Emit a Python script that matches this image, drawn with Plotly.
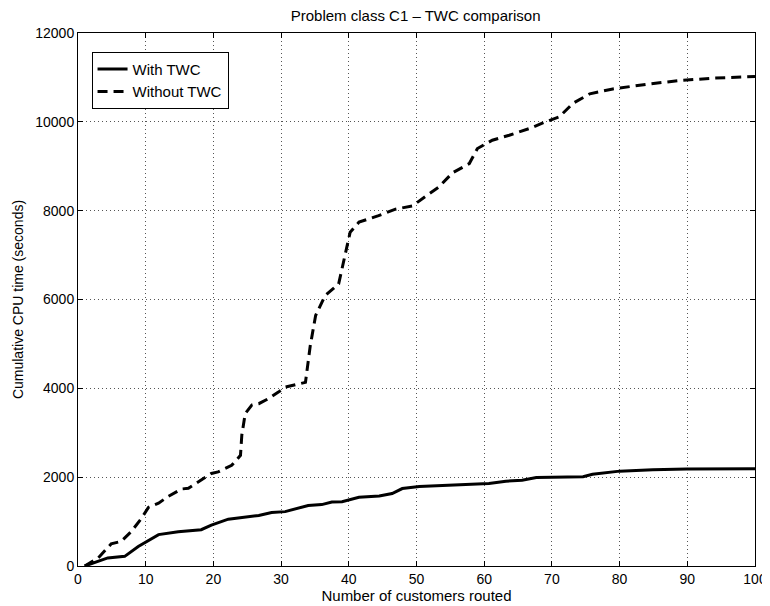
import plotly.graph_objects as go

# With TWC (solid)
with_x = [1, 4.4, 6.9, 8.9, 11.9, 14.8, 18.2, 19.7, 22.2, 26.7, 28.6, 30.6, 34, 36, 37.5, 39,
          41.5, 44.5, 46.4, 47.9, 50.4, 59.3, 60.7, 63.2, 65.6, 67.7, 74.6, 76, 80, 84.9, 89.9, 100]
with_y = [0, 182, 217, 440, 707, 771, 818, 922, 1055, 1139, 1204, 1224, 1362, 1382, 1440, 1447,
          1548, 1574, 1632, 1743, 1791, 1855, 1857, 1910, 1931, 1994, 2009, 2067, 2136, 2168, 2183, 2190]

# Without TWC (dashed)
without_x = [1, 3.0, 4.9, 6.4, 7.9, 9.4, 10.4, 11.9, 13.3, 15.3, 16.3, 17.8, 19.7, 20.7, 22.7,
             24.0, 24.2, 24.7, 25.7, 26.7, 28.1, 29.6, 30.6, 33.6, 33.8, 34.3, 35.1, 36.5, 38.5,
             39.0, 39.7, 40.2, 41.5, 44.4, 46.9, 49.4, 51.4, 53.3, 55.3, 57.8, 59.0, 61.2, 63.7,
             66.7, 68.9, 71.1, 73.1, 75.6, 79, 84, 88.9, 93.8, 100]
without_y = [0, 184, 498, 556, 780, 1079, 1319, 1415, 1564, 1734, 1748, 1897, 2083, 2119, 2267,
             2491, 2950, 3431, 3626, 3654, 3766, 3915, 4026, 4135, 4361, 4953, 5640, 6090, 6351,
             6689, 7139, 7516, 7741, 7888, 8034, 8107, 8330, 8531, 8850, 9060, 9399, 9586, 9699,
             9850, 9990, 10113, 10416, 10631, 10740, 10846, 10930, 10983, 11020]

x_ticks = [0, 10, 20, 30, 40, 50, 60, 70, 80, 90, 100]
y_ticks = [0, 2000, 4000, 6000, 8000, 10000, 12000]
y_tick_labels = [str(v) for v in y_ticks]

FONT = "Liberation Sans, Arial, Helvetica, sans-serif"
FS = 14

fig = go.Figure()
fig.add_trace(go.Scatter(x=with_x, y=with_y, mode="lines", name="With TWC",
                         line=dict(color="black", width=3)))
fig.add_trace(go.Scatter(x=without_x, y=without_y, mode="lines", name="Without TWC",
                         line=dict(color="black", width=3, dash="10px,6px")))

axis_common = dict(showline=True, linecolor="black", linewidth=1, mirror="ticks",
                   ticks="inside", ticklen=5, tickcolor="black", automargin=False,
                   showgrid=True, gridcolor="#555", griddash="1px,3px", gridwidth=1,
                   zeroline=False, tickfont=dict(size=FS, color="black", family=FONT))

# the page body has an 8px margin (figure starts at 8,8), so width/height and left/top margins shrink by 8
fig.update_layout(
    width=762, height=598,
    paper_bgcolor="white", plot_bgcolor="white",
    margin=dict(l=70, r=15, t=25, b=40),
    font=dict(family=FONT, color="black", size=FS),
    title=dict(text="Problem class C1 \u2013 TWC comparison", x=0.535, xanchor="center",
               y=0.996, yanchor="top", yref="container",
               font=dict(size=15, color="black", family=FONT)),
    xaxis=dict(range=[0, 100], tickvals=x_ticks,
               title=dict(text="Number of customers routed", standoff=0,
                          font=dict(size=15, family=FONT)),
               **axis_common),
    yaxis=dict(range=[0, 12000], tickvals=y_ticks, ticktext=y_tick_labels,
               title=dict(text="Cumulative CPU time (seconds)", standoff=8,
                          font=dict(size=FS, family=FONT)),
               **axis_common),
    legend=dict(x=0.02, y=0.965, xanchor="left", yanchor="top",
                bordercolor="black", borderwidth=1, bgcolor="white",
                font=dict(size=15, family=FONT), itemwidth=30,
                tracegroupgap=0),
    showlegend=True,
)

fig.write_html("out.html")
